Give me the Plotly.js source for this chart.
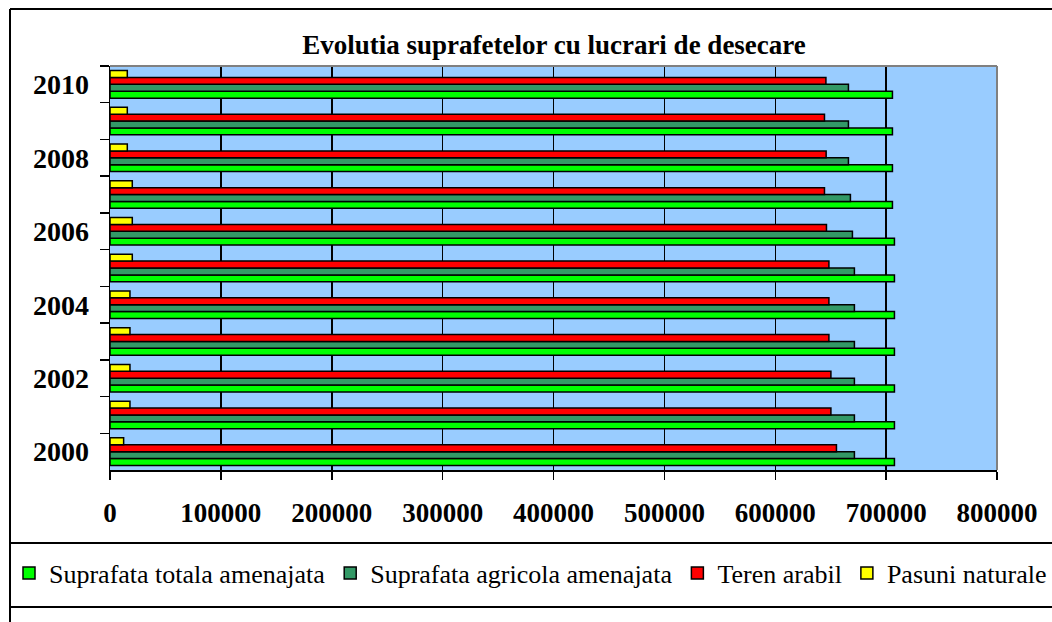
<!DOCTYPE html>
<html>
<head>
<meta charset="utf-8">
<script src="https://cdn.plot.ly/plotly-3.0.1.min.js"></script>
<style>html,body{margin:0;padding:0;background:#fff;}#chart{width:1052px;height:622px;}</style>
</head>
<body>
<div id="chart"></div>
<script>
const years = ['2000','2001','2002','2003','2004','2005','2006','2007','2008','2009','2010'];
const yearLabels = ['2000','','2002','','2004','','2006','','2008','','2010'];
const xTicks = [0,100000,200000,300000,400000,500000,600000,700000,800000];
const xTickLabels = ['0','100000','200000','300000','400000','500000','600000','700000','800000'];
const seriesNames = ['Suprafata totala amenajata','Suprafata agricola amenajata','Teren arabil','Pasuni naturale'];
const totala   = [707500,707500,707500,707500,707500,707500,707500,705700,705700,705700,705700];
const agricola = [671400,671400,671400,671400,671400,671400,669600,667800,666000,666000,666000];
const arabil   = [655200,650200,650200,648400,648400,648400,646200,644400,645900,644400,645700];
const pasuni   = [12300,18000,18000,18000,18000,20100,20100,20100,15600,15600,15600];
const colors = ['#00FF00','#339966','#FF0000','#FFFF00'];

const W = 1052, H = 622;
const px = v => v / W, py = v => 1 - v / H;

const allSeries = [totala, agricola, arabil, pasuni];
const traces = allSeries.map((vals, i) => ({
  type: 'bar', orientation: 'h',
  name: seriesNames[i], x: vals, y: years,
  marker: {color: colors[i], line: {color: '#000', width: 1.5}},
  hoverinfo: 'skip'
}));

const serif = '"Liberation Serif", "Times New Roman", serif';
const layout = {
  width: W, height: H,
  margin: {l: 0, r: 0, t: 0, b: 0},
  paper_bgcolor: '#fff', plot_bgcolor: '#99CCFF',
  barmode: 'group', bargap: 0.25, bargroupgap: 0,
  showlegend: true,
  title: {text: 'Evolutia suprafetelor cu lucrari de desecare',
    font: {family: serif, size: 27, color: '#000', weight: 700},
    x: 554 / W, xref: 'container', xanchor: 'center',
    y: py(45), yref: 'container', yanchor: 'middle'},
  xaxis: {domain: [px(110), px(997)], range: [0, 800000],
    tickmode: 'array', tickvals: xTicks, ticktext: xTickLabels,
    showgrid: true, gridcolor: '#000', gridwidth: 1.5, zeroline: false,
    showline: true, linecolor: '#000', linewidth: 1.5,
    ticks: 'outside', ticklen: 8, tickwidth: 1.5, tickcolor: '#000',
    ticklabelstandoff: 10,
    tickfont: {family: serif, size: 27, color: '#000', weight: 700}, fixedrange: true},
  yaxis: {domain: [py(470), py(66)], type: 'category',
    categoryorder: 'array', categoryarray: years,
    tickmode: 'array', tickvals: years, ticktext: yearLabels,
    tickson: 'boundaries', showgrid: false, zeroline: false,
    showline: true, linecolor: '#000', linewidth: 1.5,
    ticks: 'outside', ticklen: 9, tickwidth: 1.5, tickcolor: '#000',
    ticklabelstandoff: 14,
    tickfont: {family: serif, size: 28, color: '#000', weight: 700}, fixedrange: true},
  legend: {orientation: 'h', x: px(9), xanchor: 'left', y: py(573), yanchor: 'middle',
    font: {family: serif, size: 26, color: '#000'}, traceorder: 'normal',
    bgcolor: 'rgba(0,0,0,0)', borderwidth: 0},
  shapes: [
    {type: 'line', xref: 'paper', yref: 'paper', x0: px(10), x1: 1, y0: py(9), y1: py(9), line: {color: '#000', width: 2}},
    {type: 'line', xref: 'paper', yref: 'paper', x0: px(10), x1: px(10), y0: py(9), y1: 0, line: {color: '#000', width: 2}},
    {type: 'line', xref: 'paper', yref: 'paper', x0: px(10), x1: 1, y0: py(543), y1: py(543), line: {color: '#000', width: 2}},
    {type: 'line', xref: 'paper', yref: 'paper', x0: px(10), x1: 1, y0: py(607), y1: py(607), line: {color: '#000', width: 2}},
    {type: 'line', xref: 'x domain', yref: 'y domain', x0: 0, x1: 1, y0: 1, y1: 1, line: {color: '#808080', width: 2}, layer: 'above'},
    {type: 'line', xref: 'x domain', yref: 'y domain', x0: 1, x1: 1, y0: 0, y1: 1, line: {color: '#808080', width: 2}, layer: 'above'}
  ]
};

Plotly.newPlot('chart', traces, layout, {displayModeBar: false, staticPlot: true});
</script>
</body>
</html>
